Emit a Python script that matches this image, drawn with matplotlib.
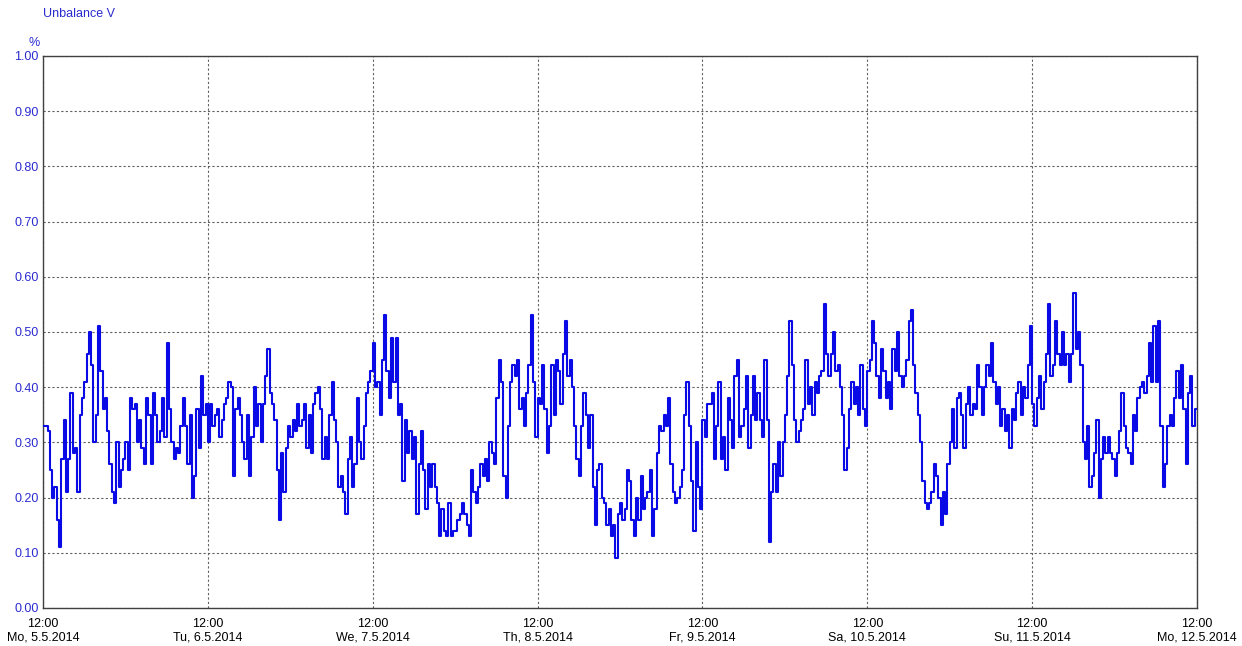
import numpy as np
import matplotlib
matplotlib.use("Agg")
import matplotlib.pyplot as plt

# Voltage unbalance, 20-minute values, one list per day (12:00 to 12:00)
day_mo = [0.33, 0.33, 0.32, 0.25, 0.20, 0.22, 0.16, 0.11, 0.27, 0.34,
          0.21, 0.27, 0.39, 0.28, 0.29, 0.21, 0.35, 0.38, 0.41, 0.46,
          0.50, 0.44, 0.30, 0.35, 0.51, 0.43, 0.36, 0.38, 0.32, 0.26,
          0.21, 0.19, 0.30, 0.22, 0.25, 0.27, 0.30, 0.25, 0.38, 0.36,
          0.37, 0.30, 0.34, 0.29, 0.26, 0.38,
          0.35, 0.26, 0.39, 0.35, 0.30, 0.32, 0.38, 0.31, 0.48, 0.36,
          0.30, 0.27, 0.29, 0.28, 0.33, 0.38, 0.33, 0.26, 0.35, 0.20,
          0.24, 0.36, 0.29, 0.42, 0.35, 0.37]
day_tu = [0.30, 0.37, 0.33, 0.35, 0.36, 0.31, 0.34, 0.37, 0.38, 0.41,
          0.40, 0.24, 0.36, 0.38, 0.35, 0.30, 0.27, 0.35, 0.24, 0.31,
          0.40, 0.33, 0.37, 0.30, 0.37, 0.42, 0.47, 0.39, 0.37, 0.34,
          0.25, 0.16, 0.28, 0.21, 0.29, 0.33, 0.31, 0.34, 0.32, 0.37,
          0.33, 0.34, 0.37, 0.29, 0.35, 0.28, 0.37, 0.39, 0.40, 0.36,
          0.27, 0.31, 0.27, 0.35, 0.41, 0.34, 0.30, 0.22, 0.24, 0.21,
          0.17, 0.27, 0.31, 0.22, 0.26, 0.38,
          0.30, 0.27, 0.33, 0.39, 0.41, 0.43]
day_we = [0.48, 0.40, 0.41, 0.35, 0.45, 0.53, 0.43, 0.38, 0.49, 0.41,
          0.49, 0.35, 0.37, 0.23, 0.34, 0.28, 0.32, 0.27, 0.31, 0.17,
          0.26, 0.32, 0.25, 0.18, 0.26, 0.22, 0.26, 0.22, 0.19, 0.13,
          0.18, 0.14, 0.13, 0.19, 0.13, 0.14, 0.14, 0.16, 0.17, 0.19,
          0.17, 0.15, 0.13, 0.25, 0.21, 0.19, 0.22, 0.26, 0.24, 0.27,
          0.23, 0.30, 0.28, 0.26, 0.38, 0.45, 0.41, 0.24, 0.20, 0.33,
          0.41, 0.44, 0.42, 0.45, 0.36, 0.38, 0.33, 0.39, 0.44, 0.53,
          0.41, 0.31]
day_th = [0.38, 0.37, 0.44, 0.36, 0.28, 0.33, 0.44, 0.35, 0.45, 0.43,
          0.37, 0.46, 0.52, 0.42,
          0.45, 0.40, 0.33, 0.27, 0.24, 0.33, 0.39, 0.35, 0.29, 0.35,
          0.22, 0.15, 0.25, 0.26, 0.20, 0.19, 0.15, 0.18, 0.13, 0.15,
          0.09, 0.17, 0.19, 0.16, 0.18, 0.25, 0.23, 0.16, 0.13, 0.20,
          0.16, 0.24, 0.18, 0.20, 0.21, 0.25, 0.13, 0.18, 0.28, 0.33,
          0.32, 0.35, 0.33, 0.38, 0.26,
          0.21, 0.19, 0.20, 0.22, 0.25, 0.35, 0.41, 0.33, 0.23, 0.14,
          0.30, 0.22, 0.18]
day_fr = [0.34, 0.31, 0.37, 0.37, 0.39, 0.27, 0.33, 0.41, 0.27, 0.31,
          0.25, 0.38, 0.34, 0.29, 0.42, 0.45, 0.31, 0.33, 0.36, 0.42,
          0.29, 0.35, 0.42, 0.34, 0.39, 0.34, 0.31, 0.45, 0.34, 0.12,
          0.21, 0.26, 0.21,
          0.30, 0.24, 0.30, 0.35, 0.42, 0.52, 0.44, 0.34, 0.30,
          0.32, 0.34, 0.36, 0.45, 0.37, 0.40, 0.35, 0.41, 0.39, 0.42,
          0.43, 0.55, 0.46, 0.42, 0.46, 0.50, 0.43, 0.44, 0.40, 0.35,
          0.25, 0.29, 0.36, 0.41, 0.37, 0.40, 0.35, 0.44, 0.36, 0.33]
day_sa = [0.43, 0.45, 0.52, 0.48, 0.42, 0.38, 0.47,
          0.43, 0.38, 0.41, 0.36, 0.47, 0.43, 0.50, 0.42, 0.40, 0.42,
          0.45, 0.52, 0.54, 0.44, 0.39, 0.35, 0.30, 0.23, 0.19, 0.18,
          0.19, 0.21, 0.26, 0.24, 0.20, 0.15, 0.21, 0.17, 0.26, 0.30,
          0.36, 0.29, 0.38, 0.39, 0.35, 0.29, 0.37, 0.40, 0.35, 0.37,
          0.36, 0.44, 0.40, 0.35, 0.40, 0.44,
          0.42, 0.48, 0.41, 0.37, 0.40, 0.33, 0.36, 0.32, 0.35, 0.29,
          0.36, 0.34, 0.39, 0.41, 0.35, 0.40, 0.38, 0.44, 0.51]
day_su = [0.37, 0.33, 0.38, 0.42, 0.36, 0.41, 0.46, 0.55, 0.42, 0.44,
          0.52, 0.46, 0.44, 0.50, 0.44, 0.46, 0.41, 0.46, 0.57, 0.47,
          0.50, 0.44, 0.30, 0.27, 0.33, 0.22, 0.24,
          0.28, 0.34, 0.20, 0.27, 0.31, 0.28, 0.31, 0.28, 0.27, 0.24,
          0.28, 0.32, 0.39, 0.33, 0.29, 0.28, 0.26, 0.35, 0.32, 0.38,
          0.40, 0.41, 0.39, 0.42, 0.48, 0.41, 0.51, 0.41, 0.52, 0.33,
          0.22, 0.26, 0.33, 0.35, 0.33, 0.38, 0.43, 0.38, 0.44, 0.36,
          0.26, 0.39, 0.42, 0.33, 0.36]

tick_labels = ["12:00\nMo, 5.5.2014", "12:00\nTu, 6.5.2014",
               "12:00\nWe, 7.5.2014", "12:00\nTh, 8.5.2014",
               "12:00\nFr, 9.5.2014", "12:00\nSa, 10.5.2014",
               "12:00\nSu, 11.5.2014", "12:00\nMo, 12.5.2014"]
y_ticks = [0.0, 0.1, 0.2, 0.3, 0.4, 0.5, 0.6, 0.7, 0.8, 0.9, 1.0]

values = np.array(day_mo + day_tu + day_we + day_th + day_fr + day_sa + day_su)
step_h = 1.0 / 3.0                      # 20-minute interval in hours
hours = np.arange(len(values) + 1) * step_h
series = np.append(values, values[-1])

plt.rcParams["font.family"] = ["Liberation Sans", "DejaVu Sans"]
fig = plt.figure(figsize=(12.42, 6.46), dpi=100)
ax = fig.add_axes([43 / 1242, 1 - 608 / 646, (1197 - 43) / 1242, (608 - 56) / 646])

ax.plot(hours, series, drawstyle="steps-post", color="#0a0ae6", lw=1.5, zorder=3)

ax.set_xlim(0, 168)
ax.set_ylim(0, 1.0)
ax.set_xticks(np.arange(len(tick_labels)) * 24)
ax.set_xticklabels(tick_labels, fontsize=9, color="black", linespacing=1.15)
ax.set_yticks(y_ticks)
ax.set_yticklabels([f"{v:.2f}" for v in y_ticks], fontsize=9, color="#2a2ad0")
ax.tick_params(axis="y", length=0, pad=3)
ax.tick_params(axis="x", length=0, pad=7)

ax.grid(True, color="#606060", linestyle=(0, (2, 2)), linewidth=0.8, zorder=1)
for s in ax.spines.values():
    s.set_color("#404040")
    s.set_linewidth(1.0)

fig.text(43 / 1242, 1 - 14 / 646, "Unbalance V", fontsize=9, color="#2a2ad0",
         ha="left", va="center")
fig.text(40 / 1242, 1 - 43 / 646, "%", fontsize=9, color="#2a2ad0",
         ha="right", va="center")

fig.savefig("out.png", dpi=100)
